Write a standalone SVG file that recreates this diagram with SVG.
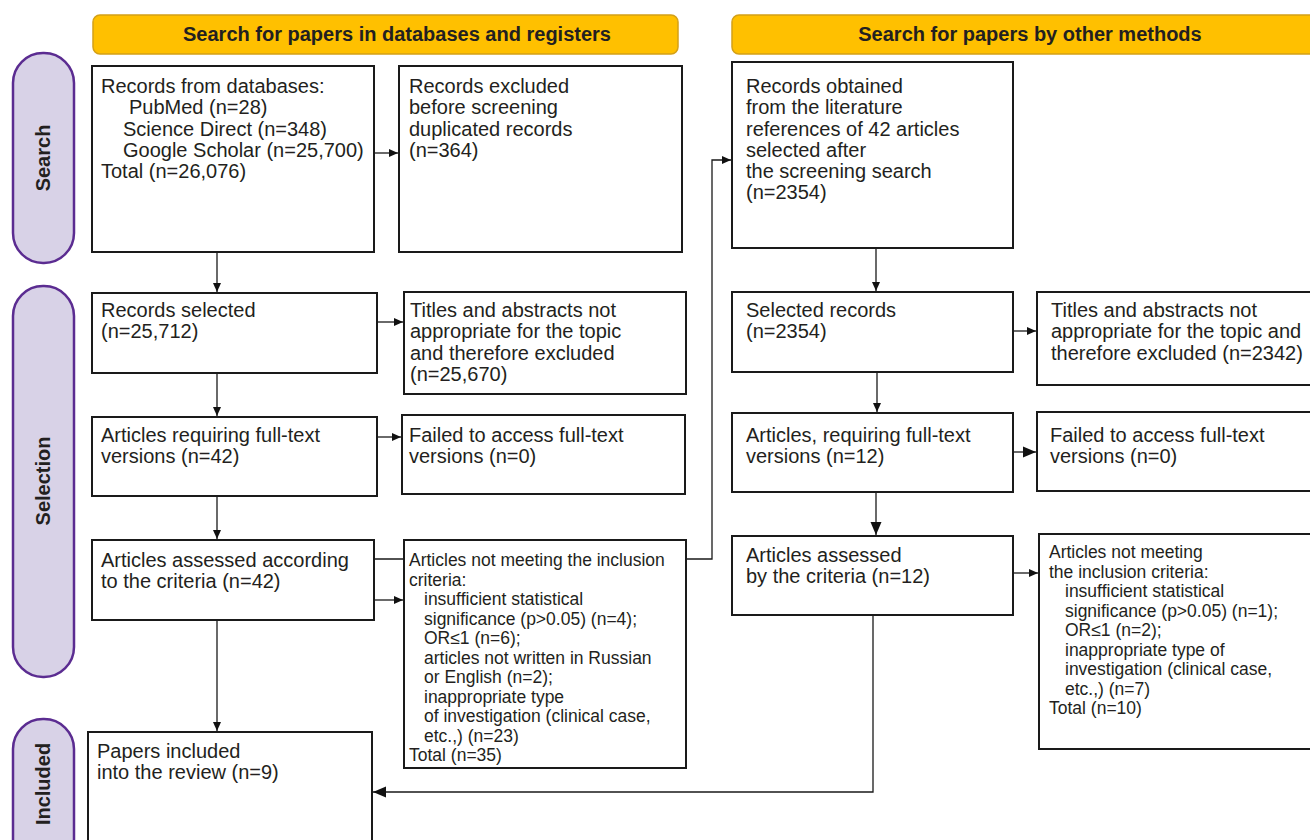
<svg xmlns="http://www.w3.org/2000/svg" width="1310" height="840" viewBox="0 0 1310 840">
<defs>
<style>
.hdr{fill:#FFC000;stroke:#D4A017;stroke-width:1.5}
.hdrt{font-family:"Liberation Sans",Arial,sans-serif;font-weight:bold;font-size:20px;fill:#231f20;text-anchor:middle}
.pill{fill:#D8D2E7;stroke:#5B2C91;stroke-width:2.5}
.pillt{font-family:"Liberation Sans",Arial,sans-serif;font-weight:bold;font-size:20px;fill:#231f20;text-anchor:middle}
.box{fill:#fff;stroke:#1a1a1a;stroke-width:2}
.t{font-family:"Liberation Sans",Arial,sans-serif;font-size:20px;fill:#231f20}
.s{font-family:"Liberation Sans",Arial,sans-serif;font-size:17.5px;fill:#231f20}
.c{fill:none;stroke:#1a1a1a;stroke-width:1.3}
</style>
<marker id="a" markerUnits="userSpaceOnUse" markerWidth="10" markerHeight="10" refX="9" refY="5" orient="auto"><path d="M0,1 L9,5 L0,9 z" fill="#111"/></marker>
<marker id="b" markerUnits="userSpaceOnUse" markerWidth="14" markerHeight="14" refX="13" refY="7" orient="auto"><path d="M0,1.5 L13,7 L0,12.5 z" fill="#111"/></marker>
</defs>

<g id="header-left"><rect class="hdr" x="93" y="15" width="585" height="39" rx="7"/><text class="hdrt" x="397" y="41">Search for papers in databases and registers</text></g>
<g id="header-right"><rect class="hdr" x="732" y="15" width="590" height="39" rx="7"/><text class="hdrt" x="1030" y="41">Search for papers by other methods</text></g>

<g id="phase-search"><rect class="pill" x="13" y="53" width="61" height="210" rx="30"/><text class="pillt" transform="translate(50,158) rotate(-90)">Search</text></g>
<g id="phase-selection"><rect class="pill" x="13" y="286" width="61" height="391" rx="30"/><text class="pillt" transform="translate(50,481) rotate(-90)">Selection</text></g>
<g id="phase-included"><rect class="pill" x="13" y="719" width="61" height="150" rx="30"/><text class="pillt" transform="translate(50,784) rotate(-90)">Included</text></g>

<g id="connectors">
<line class="c" x1="217" y1="252" x2="217" y2="292" marker-end="url(#a)"/>
<line class="c" x1="374" y1="153" x2="398" y2="153" marker-end="url(#a)"/>
<line class="c" x1="377" y1="322" x2="403" y2="322" marker-end="url(#a)"/>
<line class="c" x1="217" y1="373" x2="217" y2="416" marker-end="url(#a)"/>
<line class="c" x1="377" y1="437" x2="401" y2="437" marker-end="url(#a)"/>
<line class="c" x1="217" y1="496" x2="217" y2="539" marker-end="url(#a)"/>
<line class="c" x1="374" y1="600" x2="403" y2="600" marker-end="url(#a)"/>
<line class="c" x1="217" y1="620" x2="217" y2="731" marker-end="url(#a)"/>
<polyline class="c" points="374,559 712,559 712,160 731,160" marker-end="url(#a)"/>
<line class="c" x1="876" y1="248" x2="876" y2="291" marker-end="url(#a)"/>
<line class="c" x1="1013" y1="331" x2="1036" y2="331" marker-end="url(#a)"/>
<line class="c" x1="877" y1="372" x2="877" y2="412" marker-end="url(#a)"/>
<line class="c" x1="1013" y1="452" x2="1036" y2="452" marker-end="url(#b)"/>
<line class="c" x1="876" y1="492" x2="876" y2="535" marker-end="url(#b)"/>
<line class="c" x1="1013" y1="573" x2="1038" y2="573" marker-end="url(#a)"/>
<polyline class="c" points="873,615 873,792 373,792" marker-end="url(#b)"/>
</g>

<g id="records-databases"><rect class="box" x="92" y="66" width="282" height="186"/>
<text class="t" x="101" y="93">Records from databases:</text>
<text class="t" x="129" y="114">PubMed (n=28)</text>
<text class="t" x="123" y="135.5">Science Direct (n=348)</text>
<text class="t" x="123" y="157">Google Scholar (n=25,700)</text>
<text class="t" x="101" y="178">Total (n=26,076)</text></g>

<g id="records-excluded"><rect class="box" x="399" y="66" width="283" height="186"/>
<text class="t" x="409" y="93">Records excluded</text>
<text class="t" x="409" y="114">before screening</text>
<text class="t" x="409" y="135.5">duplicated records</text>
<text class="t" x="409" y="157">(n=364)</text></g>

<g id="records-selected"><rect class="box" x="92" y="293" width="285" height="80"/>
<text class="t" x="101" y="317">Records selected</text>
<text class="t" x="101" y="338">(n=25,712)</text></g>

<g id="titles-excluded-left"><rect class="box" x="404" y="292" width="282" height="102"/>
<text class="t" x="410" y="317">Titles and abstracts not</text>
<text class="t" x="410" y="338">appropriate for the topic</text>
<text class="t" x="410" y="359.5">and therefore excluded</text>
<text class="t" x="410" y="381">(n=25,670)</text></g>

<g id="fulltext-left"><rect class="box" x="92" y="417" width="285" height="79"/>
<text class="t" x="101" y="442">Articles requiring full-text</text>
<text class="t" x="101" y="463">versions (n=42)</text></g>

<g id="failed-left"><rect class="box" x="402" y="415" width="283" height="79"/>
<text class="t" x="409" y="442">Failed to access full-text</text>
<text class="t" x="409" y="463">versions (n=0)</text></g>

<g id="assessed-left"><rect class="box" x="92" y="540" width="282" height="80"/>
<text class="t" x="101" y="567">Articles assessed according</text>
<text class="t" x="101" y="588">to the criteria (n=42)</text></g>

<g id="not-meeting-left"><rect class="box" x="404" y="540" width="282" height="228"/>
<text class="s" x="409" y="566">Articles not meeting the inclusion</text>
<text class="s" x="409" y="585.5">criteria:</text>
<text class="s" x="424" y="605">insufficient statistical</text>
<text class="s" x="424" y="624.5">significance (p&gt;0.05) (n=4);</text>
<text class="s" x="424" y="644">OR≤1 (n=6);</text>
<text class="s" x="424" y="663.5">articles not written in Russian</text>
<text class="s" x="424" y="683">or English (n=2);</text>
<text class="s" x="424" y="702.5">inappropriate type</text>
<text class="s" x="424" y="722">of investigation (clinical case,</text>
<text class="s" x="424" y="741.5">etc.,) (n=23)</text>
<text class="s" x="409" y="761">Total (n=35)</text></g>

<g id="included"><rect class="box" x="88" y="732" width="284" height="120"/>
<text class="t" x="97" y="758">Papers included</text>
<text class="t" x="97" y="779">into the review (n=9)</text></g>

<g id="records-other"><rect class="box" x="732" y="62" width="281" height="186"/>
<text class="t" x="746" y="93">Records obtained</text>
<text class="t" x="746" y="114">from the literature</text>
<text class="t" x="746" y="135.5">references of 42 articles</text>
<text class="t" x="746" y="157">selected after</text>
<text class="t" x="746" y="178">the screening search</text>
<text class="t" x="746" y="199">(n=2354)</text></g>

<g id="selected-right"><rect class="box" x="732" y="292" width="281" height="80"/>
<text class="t" x="746" y="317">Selected records</text>
<text class="t" x="746" y="338">(n=2354)</text></g>

<g id="titles-excluded-right"><rect class="box" x="1037" y="292" width="290" height="93"/>
<text class="t" x="1051" y="317">Titles and abstracts not</text>
<text class="t" x="1051" y="338">appropriate for the topic and</text>
<text class="t" x="1051" y="359.5">therefore excluded (n=2342)</text></g>

<g id="fulltext-right"><rect class="box" x="732" y="413" width="281" height="79"/>
<text class="t" x="746" y="442">Articles, requiring full-text</text>
<text class="t" x="746" y="463">versions (n=12)</text></g>

<g id="failed-right"><rect class="box" x="1037" y="412" width="290" height="79"/>
<text class="t" x="1050" y="442">Failed to access full-text</text>
<text class="t" x="1050" y="463">versions (n=0)</text></g>

<g id="assessed-right"><rect class="box" x="732" y="536" width="281" height="79"/>
<text class="t" x="746" y="562">Articles assessed</text>
<text class="t" x="746" y="583">by the criteria (n=12)</text></g>

<g id="not-meeting-right"><rect class="box" x="1039" y="534" width="290" height="215"/>
<text class="s" x="1049" y="558">Articles not meeting</text>
<text class="s" x="1049" y="577.5">the inclusion criteria:</text>
<text class="s" x="1065" y="597">insufficient statistical</text>
<text class="s" x="1065" y="616.5">significance (p&gt;0.05) (n=1);</text>
<text class="s" x="1065" y="636">OR≤1 (n=2);</text>
<text class="s" x="1065" y="655.5">inappropriate type of</text>
<text class="s" x="1065" y="675">investigation (clinical case,</text>
<text class="s" x="1065" y="694.5">etc.,) (n=7)</text>
<text class="s" x="1049" y="714">Total (n=10)</text></g>
</svg>
